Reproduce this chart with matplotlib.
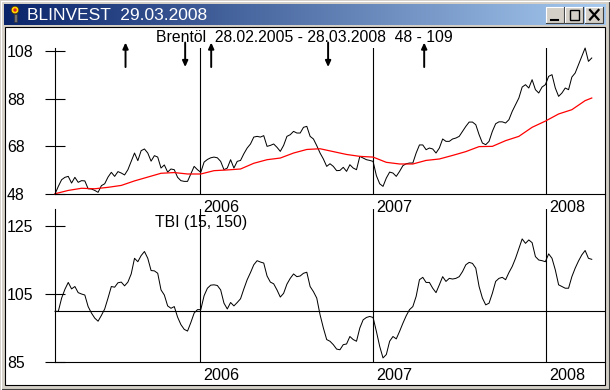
import numpy as np
import pandas as pd
import matplotlib
matplotlib.use("Agg")
import matplotlib.pyplot as plt
from matplotlib.patches import Rectangle, Circle

plt.rcParams["font.family"] = ["Liberation Sans", "DejaVu Sans"]

# weekly values, first week 28.02.2005
price = [48.0,51.2,54.0,55.0,55.4,52.6,55.0,52.9,53.6,53.5,50.2,50.1,49.5,48.7,51.5,52.3,55.1,57.1,55.4,57.4,
         56.8,56.0,58.2,61.7,65.2,62.0,66.2,66.9,65.2,61.8,64.1,63.5,58.9,60.2,57.2,58.5,58.2,55.0,53.6,53.3,
         53.3,56.5,59.6,58.2,57.1,61.4,62.5,63.2,63.5,63.2,61.7,58.2,58.9,62.4,58.9,61.7,62.1,64.9,67.3,69.0,
         71.9,72.2,71.9,72.5,68.0,68.4,69.0,67.6,65.9,68.4,72.2,72.9,74.3,73.6,73.6,76.0,76.4,72.2,71.1,68.3,
         65.2,62.7,59.6,60.7,59.6,57.8,57.9,59.2,57.5,60.3,58.9,58.2,63.8,63.1,62.4,62.1,61.7,55.7,52.3,51.2,
         54.7,57.2,56.8,55.4,57.5,59.9,60.7,61.0,61.0,65.2,68.6,68.6,66.6,67.3,66.9,65.2,67.3,71.1,70.1,70.1,
         71.1,71.5,72.2,74.3,76.4,78.2,78.2,77.1,72.9,69.4,68.7,70.1,74.3,77.5,78.3,78.3,77.8,79.2,82.7,85.5,
         88.3,92.9,93.9,92.5,96.0,91.8,90.4,92.9,93.9,97.4,98.1,92.5,89.0,90.4,92.5,91.8,97.1,98.8,102.3,105.8,
         109.3,103.7,105.1]

# red average, one value every 4 weeks plus the last week
average = [48.1,49.5,50.4,50.2,50.8,51.6,53.5,55.1,56.7,57.0,56.4,56.4,57.8,58.1,58.5,60.9,62.4,63.1,65.2,66.7,
           67.0,65.8,64.6,63.8,63.5,61.3,60.6,60.6,62.1,62.7,64.2,65.8,67.9,68.0,70.4,72.2,76.0,78.6,81.6,83.4,
           87.2,88.3]

tbi = [99.9,99.9,103.8,106.4,108.4,106.5,107.2,105.4,105.0,104.7,101.3,99.4,97.9,97.0,98.7,100.6,103.8,107.2,107.0,108.3,
       108.5,107.4,108.5,110.9,115.5,114.5,116.3,117.5,115.5,111.9,111.8,111.1,106.2,104.7,101.5,100.8,101.3,98.2,96.0,94.6,
       94.1,96.6,99.4,100.4,100.4,104.5,106.7,107.6,107.7,107.5,106.2,102.3,100.6,102.5,101.5,102.5,103.6,106.5,109.2,111.3,
       113.6,114.8,114.4,114.1,110.3,108.5,108.0,106.2,104.1,105.2,107.9,109.6,110.9,110.1,110.3,111.1,111.4,107.2,105.7,103.8,
       98.9,95.0,91.6,91.1,90.1,88.8,88.6,90.1,90.3,92.5,91.6,91.1,95.0,97.4,98.1,98.4,98.1,94.0,89.6,86.2,
       87.2,91.1,92.5,91.8,94.0,96.4,98.6,100.4,101.3,104.3,109.2,109.9,108.4,108.4,106.7,105.4,107.7,110.1,108.7,109.6,
       109.4,109.6,110.1,111.6,113.6,114.3,114.0,112.6,107.2,103.8,101.8,102.3,105.2,108.7,109.6,109.9,109.2,111.3,113.1,115.5,
       118.4,121.2,119.9,120.9,120.1,116.0,115.0,114.8,114.5,116.8,115.5,112.1,107.7,107.2,106.7,106.7,110.1,112.6,114.7,116.5,
       117.8,115.5,115.2]

up_dates = ["2005-07-27", "2006-01-24", "2007-04-19"]
down_dates = ["2005-11-30", "2006-09-28"]
years = [2006, 2007, 2008]
price_ticks = [48, 68, 88, 108]
tbi_ticks = [85, 105, 125]

dates = pd.date_range("2005-02-28", periods=len(price), freq="7D")
avg_dates = list(dates[::4]) + [dates[-1]]
year_dates = [pd.Timestamp(str(y) + "-01-01") for y in years]

W, H = 610, 390
fig = plt.figure(figsize=(6.1, 3.9), dpi=100, facecolor="#d4d0c8")


def px_axes(x0, y0, x1, y1):
    return fig.add_axes([x0 / W, 1 - y1 / H, (x1 - x0) / W, (y1 - y0) / H])


# window frame, in pixels
bg = fig.add_axes([0, 0, 1, 1])
bg.axis("off")
bg.imshow(np.linspace(0, 1, 256).reshape(1, -1), extent=(4, 606, 25, 4), aspect="auto",
          cmap=matplotlib.colors.LinearSegmentedColormap.from_list("bar", ["#0a246a", "#a6caf0"]))
bg.set_xlim(0, W)
bg.set_ylim(H, 0)
bg.plot([0.5, W - 1.5, W - 1.5], [H - 1.5, H - 1.5, 0.5], color="#404040", lw=0.8)
bg.plot([0.5, 0.5, W - 1.5], [H - 1.5, 0.5, 0.5], color="#ffffff", lw=0.8)
bg.add_patch(Rectangle((4.5, 26.5), 600, 358.5, fc="white", ec="black", lw=0.8))
bg.text(27, 15, "BLINVEST  29.03.2008", color="white", fontsize=12.5, va="center", ha="left")

# little icon
bg.add_patch(Rectangle((13.5, 14), 3, 8, fc="#707070", ec="#303030", lw=0.4))
bg.add_patch(Circle((15, 10), 3.8, fc="#ffd800", ec="#503000", lw=0.5))
bg.add_patch(Circle((15, 10), 1.7, fc="#e02020", ec="none"))

# buttons
for bx in [546, 565, 585]:
    bg.add_patch(Rectangle((bx, 7), 17.5, 15.5, fc="#d4d0c8", ec="none"))
    bg.plot([bx, bx, bx + 17.5], [22.5, 7, 7], color="white", lw=0.8)
    bg.plot([bx, bx + 17.5, bx + 17.5], [22.5, 22.5, 7], color="#404040", lw=0.8)
bg.plot([551, 558], [19.5, 19.5], color="black", lw=1.5)
bg.add_patch(Rectangle((569.5, 10), 9.5, 9.5, fc="none", ec="black", lw=1))
bg.plot([590, 598.5], [10, 19.5], color="black", lw=1.6)
bg.plot([590, 598.5], [19.5, 10], color="black", lw=1.6)

ax1 = px_axes(55, 48, 605, 194)
ax2 = px_axes(55, 209, 605, 362)

xlim = (dates[0], dates[0] + pd.Timedelta(days=1162))
for ax, ticks in [(ax1, price_ticks), (ax2, tbi_ticks)]:
    ax.patch.set_alpha(0)
    ax.set_xlim(xlim)
    ax.spines["top"].set_visible(False)
    ax.spines["right"].set_visible(False)
    ax.spines["left"].set_linewidth(0.8)
    ax.spines["bottom"].set_linewidth(0.8)
    ax.set_xticks([])
    ax.set_yticks(ticks)
    ax.tick_params(axis="y", direction="inout", length=14.4, width=0.8, pad=27.4, labelsize=11.4)
    for lab in ax.get_yticklabels():
        lab.set_ha("left")
    for d, y in zip(year_dates, years):
        ax.axvline(d, color="black", lw=0.8)
        ax.annotate(str(y), (d, 0), xycoords=("data", "axes fraction"), xytext=(3, -13),
                    textcoords="offset pixels", fontsize=11.6, ha="left", va="center", annotation_clip=False)

ax1.set_ylim(48, 109.3)
ax2.set_ylim(85, 130)

ax1.plot(dates, price, color="black", lw=0.72, clip_on=False)
ax1.plot(avg_dates, average, color="#ff0000", lw=0.9, clip_on=False)
ax2.axhline(100, color="black", lw=0.8)
ax2.plot(dates, tbi, color="black", lw=0.72, clip_on=False)

# buy and sell signals
style = dict(arrowstyle="-|>,head_width=0.16,head_length=0.35", color="black", lw=1.4, shrinkA=0, shrinkB=0)
for d in up_dates:
    ax1.annotate("", xy=(pd.Timestamp(d), 111.6), xytext=(pd.Timestamp(d), 101.3), annotation_clip=False,
                 arrowprops=style)
for d in down_dates:
    ax1.annotate("", xy=(pd.Timestamp(d), 101.3), xytext=(pd.Timestamp(d), 111.6), annotation_clip=False,
                 arrowprops=style)

bg.text(156, 37, "Brentöl  28.02.2005 - 28.03.2008  48 - 109", fontsize=11.3, va="center", ha="left", zorder=5)
bg.text(155, 223, "TBI (15, 150)", fontsize=11.3, va="center", ha="left", zorder=5)

fig.savefig("out.png", dpi=100, facecolor=fig.get_facecolor())
